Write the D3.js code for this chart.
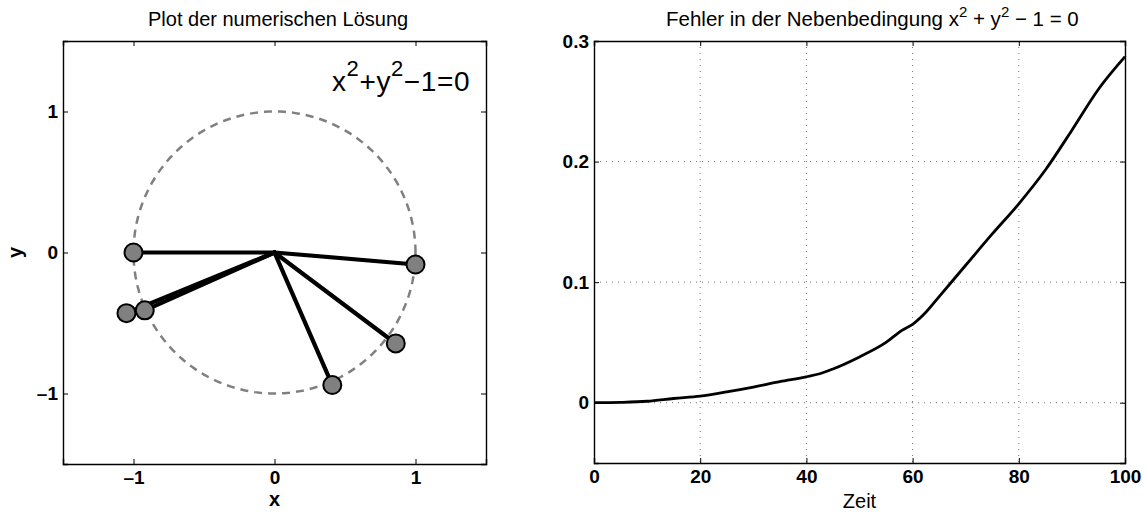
<!DOCTYPE html>
<html><head><meta charset="utf-8">
<script src="https://cdn.jsdelivr.net/npm/d3@7"></script>
<style>body{margin:0;background:#fff}svg{display:block}text{font-family:"Liberation Sans",Arial,sans-serif}</style>
</head><body><svg id="c" width="1147" height="512"></svg>
<script>
// ---- data ----
const bobX = [-1.0, 1.0, 0.86, 0.41, -0.92, -1.05];
const bobY = [0.0, -0.085, -0.645, -0.94, -0.41, -0.43];
const leftTicks = [-1, 0, 1];
const timeVals = [0,5,10,15,20,25,30,35,40,42.5,45,50,55,58,60,62.5,65,70,75,80,85,90,95,100];
const errVals  = [0,0.0003,0.0012,0.0035,0.0055,0.009,0.013,0.0175,0.0215,0.024,0.028,0.038,0.05,0.06,0.065,0.075,0.088,0.114,0.14,0.165,0.193,0.226,0.26,0.287];
const timeTicks = [0,20,40,60,80,100];
const errTicks = [0,0.1,0.2,0.3];

const svg = d3.select("#c");

// ---- left plot ----
const L = {x0:63, x1:486, y0:41, y1:464};
const xs = d3.scaleLinear().domain([-1.5,1.5]).range([L.x0,L.x1]);
const ys = d3.scaleLinear().domain([-1.5,1.5]).range([L.y1,L.y0]);
const gl = svg.append("g");

function boxAxes(g, xsc, ysc, xt, yt, box, xfmt, yfmt){
  g.append("g").attr("transform",`translate(0,${box.y1})`)
    .call(d3.axisBottom(xsc).tickValues(xt).tickSize(-5).tickPadding(7).tickFormat(xfmt));
  g.append("g").attr("transform",`translate(0,${box.y0})`)
    .call(d3.axisTop(xsc).tickValues(xt).tickSize(-5).tickFormat(""));
  g.append("g").attr("transform",`translate(${box.x0},0)`)
    .call(d3.axisLeft(ysc).tickValues(yt).tickSize(-5).tickPadding(5).tickFormat(yfmt));
  g.append("g").attr("transform",`translate(${box.x1},0)`)
    .call(d3.axisRight(ysc).tickValues(yt).tickSize(-5).tickFormat(""));
  g.selectAll(".domain").attr("stroke","#000").attr("stroke-width",1.4);
  g.selectAll(".tick line").attr("stroke","#000").attr("stroke-width",1);
  g.selectAll(".tick text").attr("font-size",19).attr("font-weight","bold")
    .attr("font-family","'Liberation Sans',Arial,sans-serif").attr("fill","#000");
}
const fmtMinus = d => d<0 ? "\u2013"+Math.abs(d) : String(d);

// dashed unit circle
const circ = d3.range(0,361,2).map(a=>[Math.cos(a*Math.PI/180), Math.sin(a*Math.PI/180)]);
gl.append("path").datum(circ)
  .attr("d", d3.line().x(d=>xs(d[0])).y(d=>ys(d[1])))
  .attr("fill","none").attr("stroke","#808080").attr("stroke-width",2.5).attr("stroke-dasharray","8,6");

// rods
bobX.forEach((bx,i)=>{
  gl.append("line").attr("x1",xs(0)).attr("y1",ys(0)).attr("x2",xs(bx)).attr("y2",ys(bobY[i]))
    .attr("stroke","#000").attr("stroke-width",4.2).attr("stroke-linecap","round");
});
// bobs
bobX.forEach((bx,i)=>{
  gl.append("circle").attr("cx",xs(bx)).attr("cy",ys(bobY[i])).attr("r",9)
    .attr("fill","#808080").attr("stroke","#000").attr("stroke-width",2);
});
boxAxes(gl, xs, ys, leftTicks, leftTicks, L, fmtMinus, fmtMinus);

gl.append("text").attr("x",148).attr("y",26).attr("font-size",20).text("Plot der numerischen Lösung");
gl.append("text").attr("x",(L.x0+L.x1)/2).attr("y",506).attr("text-anchor","middle")
  .attr("font-size",20).attr("font-weight","bold").text("x");
gl.append("text").attr("transform",`translate(22,${ys(0)}) rotate(-90)`).attr("text-anchor","middle")
  .attr("font-size",20).attr("font-weight","bold").text("y");

// annotation
const ann = gl.append("text").attr("x",332).attr("y",91).attr("font-size",28).attr("letter-spacing",0.6);
ann.append("tspan").text("x");
ann.append("tspan").attr("dy",-15).attr("font-size",22).text("2");
ann.append("tspan").attr("dy",15).text("+y");
ann.append("tspan").attr("dy",-15).attr("font-size",22).text("2");
ann.append("tspan").attr("dy",15).text("\u22121=0");

// ---- right plot ----
const R = {x0:594, x1:1125, y0:41, y1:463};
const ts = d3.scaleLinear().domain([0,100]).range([R.x0,R.x1]);
const es = d3.scaleLinear().domain([-0.05,0.3]).range([R.y1,R.y0]);
const gr = svg.append("g");
// grid
gr.append("g").selectAll("line").data(timeTicks.slice(1,-1)).join("line")
  .attr("x1",d=>ts(d)).attr("x2",d=>ts(d)).attr("y1",R.y0).attr("y2",R.y1)
  .attr("stroke","#777").attr("stroke-width",1).attr("stroke-dasharray","1,5");
gr.append("g").selectAll("line").data(errTicks.slice(0,-1)).join("line")
  .attr("x1",R.x0).attr("x2",R.x1).attr("y1",d=>es(d)).attr("y2",d=>es(d))
  .attr("stroke","#777").attr("stroke-width",1).attr("stroke-dasharray","1,5");

gr.append("path").datum(timeVals.map((t,i)=>[t,errVals[i]]))
  .attr("d", d3.line().x(d=>ts(d[0])).y(d=>es(d[1])).curve(d3.curveMonotoneX))
  .attr("fill","none").attr("stroke","#000").attr("stroke-width",2.8);

boxAxes(gr, ts, es, timeTicks, errTicks, R, d=>String(d), d=>String(d));

const rt = gr.append("text").attr("x",666).attr("y",26).attr("font-size",20.5);
rt.append("tspan").text("Fehler in der Nebenbedingung x");
rt.append("tspan").attr("dy",-9).attr("font-size",15).text("2");
rt.append("tspan").attr("dy",9).text(" + y");
rt.append("tspan").attr("dy",-9).attr("font-size",15).text("2");
rt.append("tspan").attr("dy",9).text(" \u2212 1 = 0");
gr.append("text").attr("x",(R.x0+R.x1)/2).attr("y",508).attr("text-anchor","middle")
  .attr("font-size",20).text("Zeit");
</script></body></html>
